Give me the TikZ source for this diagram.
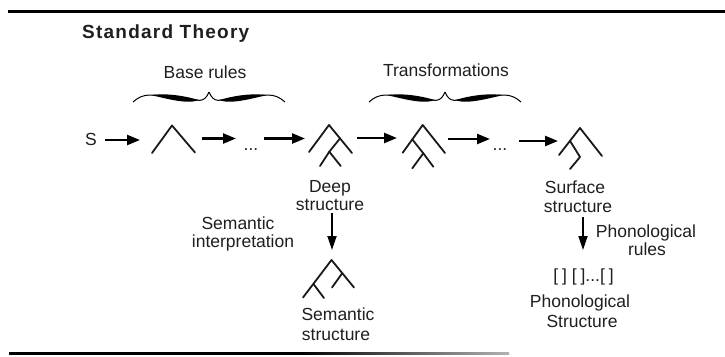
\documentclass[tikz,border=0pt]{standalone}
\usepackage{fontspec}
\setmainfont{Liberation Sans}
\newfontfamily\titlefont[LetterSpace=6.5]{Liberation Sans}
\usetikzlibrary{arrows.meta}
\begin{document}
\begin{tikzpicture}[x=1bp,y=-1bp,
  txt/.style={inner sep=0pt, anchor=base, font=\fontsize{17.5bp}{21bp}\selectfont, text=black!88},
  tree/.style={line width=1.8bp, line cap=round, line join=round, draw=black!90},
  harrow/.style={line width=2.4bp, -{Triangle[length=13bp,width=10bp]}},
  varrow/.style={line width=1.8bp, -{Triangle[length=14bp,width=9bp]}},
  halfbrace/.pic={
    \draw[line width=1bp] (0,0) .. controls (-2,5) and (-5,8.3) .. (-9,8.3)
      .. controls (-22,8.3) and (-42,3) .. (-59,3)
      .. controls (-66,3) and (-71,5.5) .. (-76,10);
    \fill (-57,3.1) .. controls (-40,0.6) and (-20,5.0) .. (-10,8.1)
      .. controls (-22,12.6) and (-42,6.6) .. (-57,3.4) -- cycle;
  },
]
\useasboundingbox (0,0) rectangle (725,356);
\fill[white] (0,0) rectangle (725,356);
% rules
\draw[line width=3bp] (8,11) -- (725,11);
\fill[black] (9,352) rectangle (300,354.5);
\shade[left color=black, right color=black!30] (300,352) rectangle (509,354.5);

% title
\node[anchor=base west, inner sep=0pt, text=black!88,
  font={\titlefont\bfseries\fontsize{19bp}{23bp}\selectfont}] (title) at (82,38.5) {Standard Theory};

% braces
\pic at (209,92) {halfbrace};
\pic[xscale=-1] at (209,92) {halfbrace};
\pic at (445,92) {halfbrace};
\pic[xscale=-1] at (445,92) {halfbrace};

% labels
\node[txt] (base) at (205,78) {Base rules};
\node[txt] (trans) at (446,76) {Transformations};
\node[txt] (S) at (91,145) {S};
\node[txt] (dots1) at (251,150) {...};
\node[txt] (dots2) at (500,150) {...};
\node[txt] (deep1) at (330,192) {Deep};
\node[txt] (deep2) at (330,210) {structure};
\node[txt] (semi1) at (238,229) {Semantic};
\node[txt] (semi2) at (243,247) {interpretation};
\node[txt] (sems1) at (338,320) {Semantic};
\node[txt] (sems2) at (336,340) {structure};
\node[txt] (surf1) at (575,193) {Surface};
\node[txt] (surf2) at (578,212) {structure};
\node[txt] (phr1) at (646,237) {Phonological};
\node[txt] (phr2) at (647,255) {rules};
\node[txt] (brk) at (583.5,281) {[\:]\;[\:]...[\:]};
\node[txt] (phs1) at (580,307) {Phonological};
\node[txt] (phs2) at (582,327) {Structure};

% trees
\draw[tree] (152,153) -- (172,125.5) -- (195,152.5);
\draw[tree] (309,152) -- (329,125) -- (352,153);
\draw[tree] (340,138.4) -- (329.3,151.7) -- (320,166);
\draw[tree] (329.3,151.7) -- (340.7,166);
\draw[tree] (402.7,152.7) -- (422.7,125) -- (445,153);
\draw[tree] (412.3,139.4) -- (423.3,153.3) -- (433.3,166.7);
\draw[tree] (423.3,153.3) -- (412.3,168.3);
\draw[tree] (559,155) -- (580,128) -- (602,156);
\draw[tree] (570,140.9) -- (580,157) -- (570,169);
\draw[tree] (303,297.5) -- (331.5,260) -- (354,287.5);
\draw[tree] (342,273.5) -- (332,287.5);
\draw[tree] (313.5,284) -- (324,298);

% arrow end points
\coordinate (a1s) at (105,140);   \coordinate (a1e) at (140,140);
\coordinate (a2s) at (202,138.5); \coordinate (a2e) at (236,138.5);
\coordinate (a3s) at (264,138.5); \coordinate (a3e) at (305,138.5);
\coordinate (a4s) at (357,138);   \coordinate (a4e) at (397,138);
\coordinate (a5s) at (448,139);   \coordinate (a5e) at (490,139);
\coordinate (a6s) at (519,141);   \coordinate (a6e) at (558,141);
\coordinate (d1s) at (332,213);   \coordinate (d1e) at (332,250);
\coordinate (d2s) at (583,217);   \coordinate (d2e) at (583,250);

\draw[harrow] (a1s) -- (a1e);
\draw[harrow] (a2s) -- (a2e);
\draw[harrow] (a3s) -- (a3e);
\draw[harrow] (a4s) -- (a4e);
\draw[harrow] (a5s) -- (a5e);
\draw[harrow] (a6s) -- (a6e);
\draw[varrow] (d1s) -- (d1e);
\draw[varrow] (d2s) -- (d2e);
\end{tikzpicture}
\end{document}
